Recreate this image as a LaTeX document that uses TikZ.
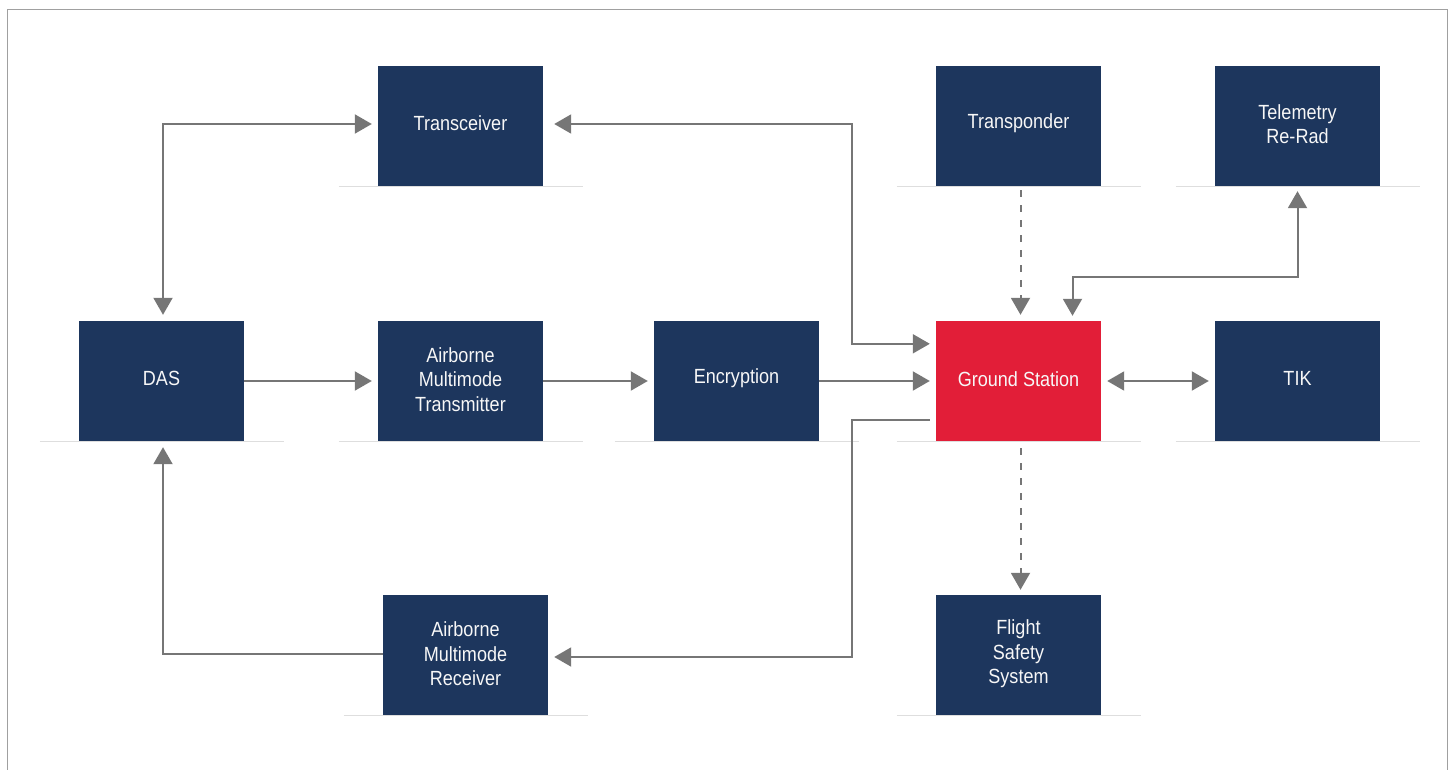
\documentclass[tikz,border=0pt]{standalone}
\usepackage{fontspec}
\setmainfont{Liberation Sans}[FakeStretch=0.88]
\usetikzlibrary{arrows.meta,calc}
\definecolor{navy}{RGB}{29,54,93}
\definecolor{gsred}{RGB}{226,30,56}
\definecolor{arrgray}{RGB}{118,118,118}
\definecolor{framegray}{RGB}{160,160,160}
\definecolor{shadegray}{RGB}{222,222,222}
\tikzset{
  blk/.style={fill=navy, minimum width=165pt, minimum height=120pt, inner sep=0pt,
    text=white!94!gray, align=center, font=\fontsize{20.5}{24.5}\selectfont},
  redblk/.style={blk, fill=gsred},
  lbl/.style={text=white!94!gray, align=center, font=\fontsize{20.5}{24.5}\selectfont, inner sep=0pt},
  conn/.style={draw=arrgray, line width=2pt,
    arrows={-Triangle[length=17pt,width=19pt]}, shorten >=6pt},
  biconn/.style={conn, arrows={Triangle[length=17pt,width=19pt]-Triangle[length=17pt,width=19pt]}, shorten <=6pt},
  dashconn/.style={conn, dash pattern=on 7pt off 8pt},
  floorline/.style={draw=shadegray, line width=1.5pt},
}
\begin{document}
\begin{tikzpicture}[x=1pt,y=-1pt]
\useasboundingbox (0,0) rectangle (1450,770);
% frame
\draw[framegray, line width=1.5pt] (7.5,790) -- (7.5,9.5) -- (1447.5,9.5) -- (1447.5,790);
% floor lines
\foreach \cx/\by in {460.5/186.5, 1018.5/186.5, 1297.5/186.5, 161.5/441.5, 460.5/441.5, 736.5/441.5, 1018.5/441.5, 1297.5/441.5, 465.5/715.5, 1018.5/715.5}
  \draw[floorline] (\cx-122,\by) -- (\cx+122,\by);
% boxes
\node[blk] (trans) at (460.5,126) {};
\node[blk] (tpdr) at (1018.5,126) {};
\node[blk] (tele) at (1297.5,126) {};
\node[blk] (das) at (161.5,381) {};
\node[blk] (amt) at (460.5,381) {};
\node[blk] (enc) at (736.5,381) {};
\node[redblk] (gs) at (1018.5,381) {};
\node[blk] (tik) at (1297.5,381) {};
\node[blk] (amr) at (465.5,655) {};
\node[blk] (fss) at (1018.5,655) {};
% labels (slightly above box centres, as in the reference)
\node[lbl] (transL) at ([yshift=2.5pt]trans.center) {Transceiver};
\node[lbl] (tpdrL) at ([yshift=2.5pt]tpdr.center) {Transponder};
\node[lbl] (teleL) at ([yshift=2pt]tele.center) {Telemetry\\Re-Rad};
\node[lbl] (dasL) at ([yshift=2.5pt]das.center) {DAS};
\node[lbl] (amtL) at ([yshift=1.5pt]amt.center) {Airborne\\Multimode\\Transmitter};
\node[lbl] (encL) at ([yshift=2.5pt]enc.center) {Encryption};
\node[lbl] (gsL) at ([yshift=1.5pt]gs.center) {Ground Station};
\node[lbl] (tikL) at ([yshift=2.5pt]tik.center) {TIK};
\node[lbl] (amrL) at ([yshift=1pt]amr.center) {Airborne\\Multimode\\Receiver};
\node[lbl] (fssL) at ([yshift=1pt]fss.center) {Flight\\Safety\\System};
% routing coordinates
\coordinate (bus) at (852,381);
\coordinate (tbus) at (1297.5,277);
% connectors
\draw[biconn] ([xshift=1.5pt]das.north) |- ([yshift=2pt]trans.west);
\draw[biconn, shorten <=11pt] ([yshift=2pt]trans.east) -- ([yshift=2pt]trans.east -| bus) |- ([yshift=-23pt]gs.north west);
\draw[conn] (das) -- (amt);
\draw[conn] (amt) -- (enc);
\draw[conn] (enc) -- (gs);
\draw[conn, shorten <=6pt] ([yshift=21pt]gs.south west) -- ([yshift=21pt]gs.south west -| bus) |- ([yshift=-2pt]amr.east);
\draw[conn] ([yshift=1pt]amr.west) -| ([xshift=1.5pt]das.south);
\draw[dashconn, shorten <=4pt] ([xshift=2pt]tpdr.south) -- ([xshift=2pt]gs.north);
\draw[biconn, shorten <=5pt, shorten >=5pt] ([xshift=54pt]gs.north) |- (tbus) -- (tele.south);
\draw[biconn] (gs) -- (tik);
\draw[dashconn, shorten <=7pt, shorten >=5pt] ([xshift=2pt]gs.south) -- ([xshift=2pt]fss.north);
\end{tikzpicture}
\end{document}
